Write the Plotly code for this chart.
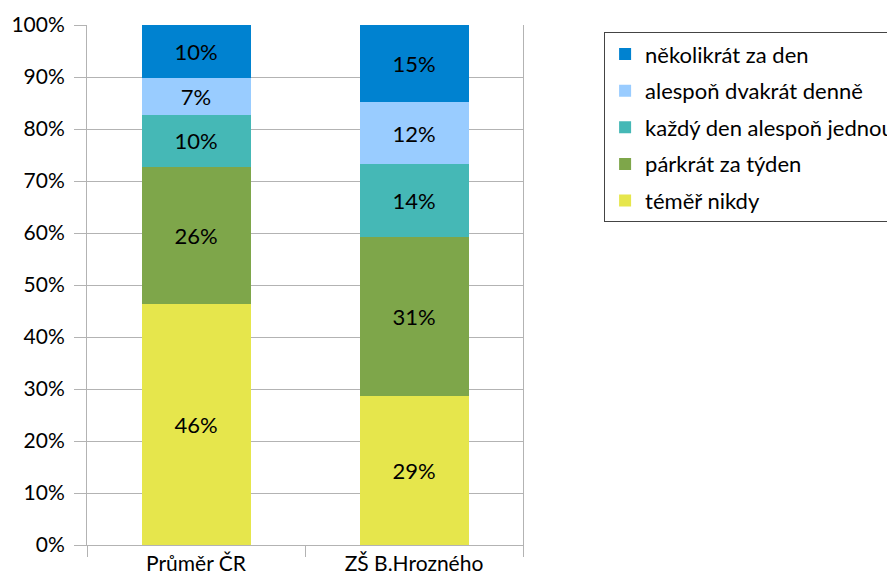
import plotly.graph_objects as go

categories = ["Průměr ČR", "ZŠ B.Hrozného"]

# stacked from bottom to top
series_names = [
    "téměř nikdy",
    "párkrát za týden",
    "každý den alespoň jednou",
    "alespoň dvakrát denně",
    "několikrát za den",
]
temer_nikdy = [46.4, 28.7]
parkrat_za_tyden = [26.3, 30.6]
kazdy_den = [10.0, 13.9]
dvakrat_denne = [7.1, 11.9]
nekolikrat_za_den = [10.2, 14.9]

series_values = [temer_nikdy, parkrat_za_tyden, kazdy_den, dvakrat_denne, nekolikrat_za_den]
colors = ["#e6e64c", "#7ea64a", "#45b8b6", "#99ccff", "#0082d0"]

tick_vals = [0, 10, 20, 30, 40, 50, 60, 70, 80, 90, 100]
tick_text = ["0%", "10%", "20%", "30%", "40%", "50%", "60%", "70%", "80%", "90%", "100%"]

FONT = "Lato, sans-serif"

fig = go.Figure()
for i, (name, vals) in enumerate(zip(series_names, series_values)):
    fig.add_trace(go.Bar(
        x=categories,
        y=vals,
        name=name,
        legendgroup=name,
        legendrank=len(series_names) - i,
        marker=dict(color=colors[i], line=dict(width=0)),
        texttemplate="%{y:.0f}%",
        textposition="inside",
        insidetextanchor="middle",
        textangle=0,
        insidetextfont=dict(color="black", size=22, family=FONT),
    ))

# page body has an 8px margin; the figure runs past the right window edge
# so the legend gets clipped like in the original
fig.update_layout(
    barmode="stack",
    bargap=0.5,
    width=920,
    height=575,
    margin=dict(l=79, r=405, t=17, b=38),
    plot_bgcolor="white",
    paper_bgcolor="white",
    font=dict(family=FONT, size=21, color="black"),
    legend=dict(
        x=1.186,
        y=0.986,
        xanchor="left",
        yanchor="top",
        traceorder="grouped",
        tracegroupgap=5,
        bordercolor="#444444",
        borderwidth=1,
        font=dict(size=22, family=FONT),
    ),
    showlegend=True,
)
fig.update_yaxes(
    range=[0, 100],
    tickvals=tick_vals,
    ticktext=tick_text,
    showgrid=True,
    gridcolor="#b3b3b3",
    gridwidth=1,
    ticks="outside",
    ticklen=12,
    tickcolor="#b3b3b3",
    showline=True,
    linecolor="#b3b3b3",
    linewidth=1,
    mirror=True,
    zeroline=False,
    ticklabelstandoff=5,
    automargin=False,
)
fig.update_xaxes(
    showgrid=False,
    ticks="outside",
    tickson="boundaries",
    ticklen=11,
    tickcolor="#b3b3b3",
    showline=True,
    linecolor="#b3b3b3",
    linewidth=1,
    automargin=False,
)

fig.write_html("out.html")
